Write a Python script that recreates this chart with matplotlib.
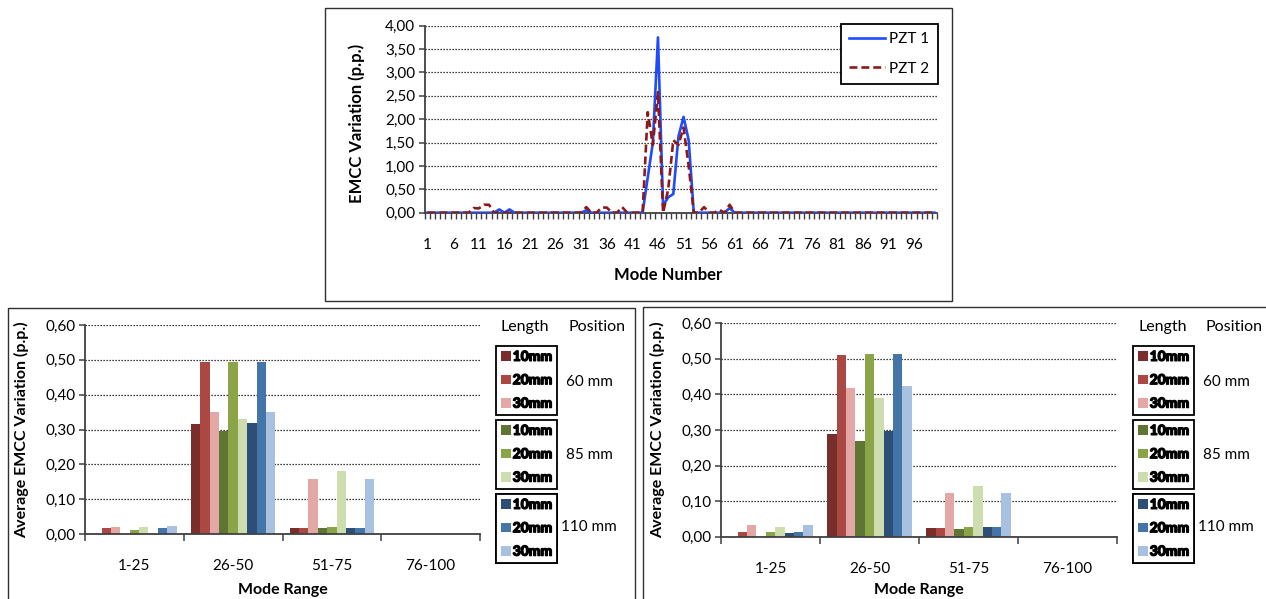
import numpy as np
import matplotlib
matplotlib.use('Agg')
import matplotlib.pyplot as plt
from matplotlib.patches import Rectangle
import matplotlib.patheffects as pe

plt.rcParams['font.family'] = ['Lato', 'DejaVu Sans']

# ---- data: top chart (EMCC variation per mode) ----
pzt1 = [0, 0, 0, 0, 0, 0, 0, 0, 0, 0,
        0, 0, 0, 0, 0.07, 0, 0.07, 0, 0, 0,
        0, 0, 0, 0, 0, 0, 0, 0, 0, 0,
        0, 0.05, 0, 0, 0, 0, 0, 0, 0, 0,
        0, 0, 0, 0.75, 1.50, 3.75, 0.15, 0.33, 0.40, 1.63,
        2.05, 1.55, 0, 0, 0, 0, 0, 0, 0, 0.10,
        0, 0, 0, 0, 0, 0, 0, 0, 0, 0,
        0, 0, 0, 0, 0, 0, 0, 0, 0, 0,
        0, 0, 0, 0, 0, 0, 0, 0, 0, 0,
        0, 0, 0, 0, 0, 0, 0, 0, 0, 0]
pzt2 = [0, 0, 0, 0, 0, 0, 0, 0, 0, 0.10,
        0.09, 0.17, 0.17, 0, 0, 0, 0, 0, 0, 0,
        0, 0, 0, 0, 0, 0, 0, 0, 0, 0,
        0, 0.12, 0, 0, 0.11, 0.11, 0, 0, 0.12, 0,
        0, 0, 0, 2.15, 1.45, 2.58, 0, 0.50, 1.55, 1.45,
        1.82, 1.00, 0, 0, 0.12, 0, 0, 0.06, 0, 0.17,
        0, 0, 0, 0, 0, 0, 0, 0, 0, 0,
        0, 0, 0, 0, 0, 0, 0, 0, 0, 0,
        0, 0, 0, 0, 0, 0, 0, 0, 0, 0,
        0, 0, 0, 0, 0, 0, 0, 0, 0, 0]

# ---- data: bottom charts (average per mode range) ----
ranges = ['1-25', '26-50', '51-75', '76-100']
lengths = ['10mm', '20mm', '30mm']
positions = ['60 mm', '85 mm', '110 mm']

# left chart: rows = 10mm, 20mm, 30mm
left_60 = [[0, 0.316, 0.016, 0], [0.016, 0.494, 0.016, 0], [0.020, 0.350, 0.157, 0]]
left_85 = [[0, 0.296, 0.018, 0], [0.012, 0.494, 0.021, 0], [0.020, 0.330, 0.182, 0]]
left_110 = [[0, 0.318, 0.018, 0], [0.016, 0.494, 0.016, 0], [0.022, 0.350, 0.157, 0]]

# right chart
right_60 = [[0, 0.290, 0.025, 0], [0.013, 0.510, 0.025, 0], [0.033, 0.419, 0.122, 0]]
right_85 = [[0, 0.268, 0.022, 0], [0.013, 0.515, 0.026, 0], [0.028, 0.390, 0.142, 0]]
right_110 = [[0.011, 0.296, 0.028, 0], [0.012, 0.515, 0.026, 0], [0.033, 0.424, 0.123, 0]]

colors = [['#7A2E2B', '#AA4843', '#E3A8A6'],
          ['#5E7533', '#8AA447', '#CEDDAE'],
          ['#2D4E76', '#4475A8', '#A8C1E1']]

W, H = 1266, 599
fig = plt.figure(figsize=(W / 100, H / 100), dpi=100)


def px_axes(l, t, r, b):
    return fig.add_axes([l / W, 1 - b / H, (r - l) / W, (b - t) / H])


def fx(x):
    return x / W


def fy(y):
    return 1 - y / H


def comma(v):
    return '{:.2f}'.format(v).replace('.', ',')


def style_axes(ax):
    for s in ['top', 'right']:
        ax.spines[s].set_visible(False)
    for s in ['left', 'bottom']:
        ax.spines[s].set_color('#404040')
        ax.spines[s].set_linewidth(1.3)
    ax.set_axisbelow(True)
    ax.yaxis.grid(True, color='black', linestyle=(0, (1, 1.4)), linewidth=0.9)
    ax.tick_params(axis='y', direction='out', length=4, width=1.1, color='#404040',
                   labelsize=11, pad=3)


# outer frames
for (l, t, r, b) in [(325, 8, 952, 301), (8, 308, 635, 612), (643, 307, 1275, 612)]:
    fig.patches.append(Rectangle((fx(l), fy(b)), (r - l) / W, (b - t) / H,
                                 transform=fig.transFigure, fill=False,
                                 edgecolor='#303030', linewidth=1.0))

# ---- top chart ----
ax = px_axes(425, 25.7, 937, 212.7)
modes = np.arange(1, 101)
ax.plot(modes, pzt1, color='#1F4BFF', lw=1.9, label='PZT 1', zorder=3)
ax.plot(modes, pzt2, color='#8B1A1A', lw=1.9, ls=(0, (3, 1.5)), label='PZT 2', zorder=4)
ax.set_xlim(0.5, 100.5)
ax.set_ylim(0, 4)
yt = np.arange(0, 4.01, 0.5)
ax.set_yticks(yt)
ax.set_yticklabels([comma(v) for v in yt])
style_axes(ax)
ax.set_xticks(np.arange(1, 101, 5))
ax.set_xticklabels([str(m) for m in range(1, 101, 5)])
ax.set_xticks(np.arange(0.5, 101, 1), minor=True)
ax.tick_params(axis='x', which='major', length=0, labelsize=11, pad=18)
ax.tick_params(axis='x', which='minor', direction='out', length=4, width=1.0, color='#404040')
leg = ax.legend(loc='upper left', bbox_to_anchor=(fx(841), fy(24)), bbox_transform=fig.transFigure,
                fancybox=False, edgecolor='black', framealpha=1, fontsize=11,
                borderpad=0.55, handlelength=2.3, handletextpad=0.3, labelspacing=1.0,
                borderaxespad=0)
leg.get_frame().set_linewidth(1.3)
fig.text(fx(357), fy(123), 'EMCC Variation (p.p.)', rotation=90, ha='center', va='center',
         fontsize=12, fontweight='bold')
fig.text(fx(668), fy(275), 'Mode Number', ha='center', va='center', fontsize=12, fontweight='bold')


# ---- bottom charts ----
def bar_chart(box, groups, ylab_x, leg_x, len_x, pos_x):
    l, t, r, b = box
    ax = px_axes(l, t, r, b)
    x = np.arange(len(ranges)) + 0.5
    w = 0.095
    k = 0
    for gi, series in enumerate(groups):
        handles = []
        for li, vals in enumerate(series):
            bars = ax.bar(x + (k - 4) * w, vals, w, color=colors[gi][li], edgecolor='none')
            handles.append(bars)
            k += 1
        lg = ax.legend(handles, lengths, loc='upper left',
                       bbox_to_anchor=(fx(leg_x), fy([346, 420, 494][gi])),
                       bbox_transform=fig.transFigure, fancybox=False, edgecolor='black',
                       framealpha=1, borderpad=0.35, handlelength=0.7, handleheight=0.7,
                       handletextpad=0.15, labelspacing=0.82, borderaxespad=0,
                       prop={'weight': 'black', 'size': 10})
        lg.get_frame().set_linewidth(1.3)
        for txt in lg.get_texts():
            txt.set_path_effects([pe.withStroke(linewidth=0.9, foreground='black')])
        ax.add_artist(lg)
        fig.text(fx(pos_x), fy([382, 455, 527][gi]), positions[gi], ha='center', va='center',
                 fontsize=11)
    ax.set_xlim(0, len(ranges))
    ax.set_ylim(0, 0.6)
    yt = np.arange(0, 0.61, 0.1)
    ax.set_yticks(yt)
    ax.set_yticklabels([comma(v) for v in yt])
    style_axes(ax)
    ax.set_xticks(np.arange(0, len(ranges) + 1))
    ax.set_xticklabels([])
    ax.set_xticks(x, minor=True)
    ax.set_xticklabels(ranges, minor=True)
    ax.tick_params(axis='x', which='major', direction='out', length=5, width=1.1, color='#404040')
    ax.tick_params(axis='x', which='minor', length=0, labelsize=11, pad=18)
    fig.text(fx(len_x), fy(327), 'Length', ha='center', va='center', fontsize=11.5)
    fig.text(fx(pos_x + 8), fy(327), 'Position', ha='center', va='center', fontsize=11.5)
    fig.text(fx(ylab_x), fy(430), 'Average EMCC Variation (p.p.)', rotation=90,
             ha='center', va='center', fontsize=11.5, fontweight='bold')
    fig.text(fx((l + r) / 2), fy(590), 'Mode Range', ha='center', va='center',
             fontsize=11.5, fontweight='bold')
    return ax


bar_chart((85, 325, 480, 534), [left_60, left_85, left_110], 22, 496, 525, 589)
bar_chart((721, 323.3, 1117, 536.7), [right_60, right_85, right_110], 658, 1133, 1163, 1226)

fig.savefig('out.png', dpi=100)
